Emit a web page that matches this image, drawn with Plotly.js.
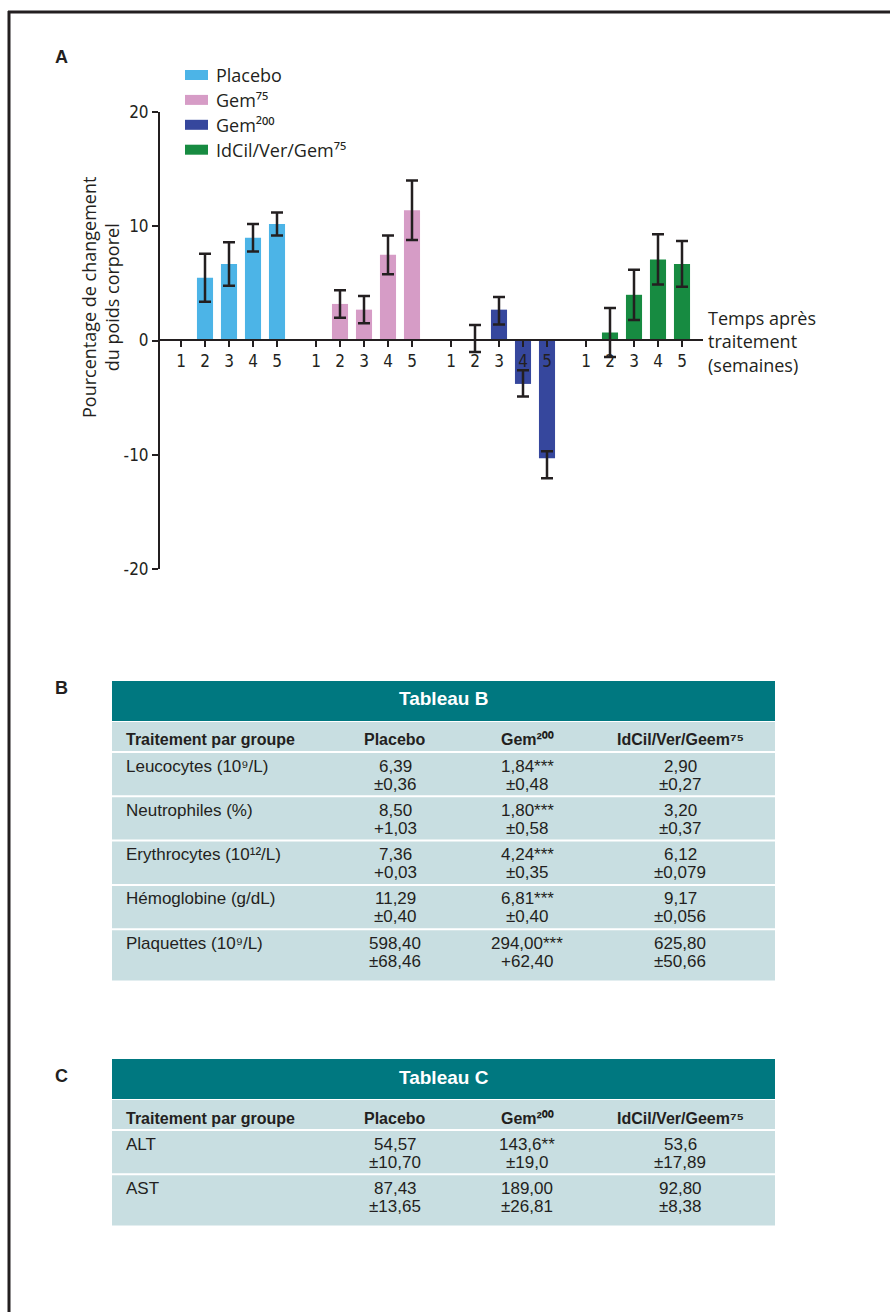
<!DOCTYPE html>
<html>
<head>
<meta charset="utf-8">
<script src="https://cdn.plot.ly/plotly-3.0.1.min.js"></script>
<style>html,body{margin:0;padding:0;background:#fff;}#chart{width:890px;height:1312px;}</style>
</head>
<body>
<div id="chart"></div>
<script>
// ---------------- DATA ----------------
const weeks = ["1", "2", "3", "4", "5"];
const seriesNames = ["Placebo", "Gem⁷⁵", "Gem²⁰⁰", "IdCil/Ver/Gem⁷⁵"];
const placeboValues = [0, 5.5, 6.7, 9.0, 10.2];
const placeboErr = [NaN, 2.1, 1.9, 1.2, 1.0];
const gem75Values = [0, 3.2, 2.7, 7.5, 11.4];
const gem75Err = [NaN, 1.2, 1.2, 1.7, 2.6];
const gem200Values = [0, 0, 2.7, -3.8, -10.3];
const gem200ErrPlus = [NaN, 1.35, 1.1, 1.2, 0.6];
const gem200ErrMinus = [NaN, 1.0, 1.3, 1.1, 1.75];
const comboValues = [0, 0.7, 4.0, 7.1, 6.7];
const comboErr = [NaN, 2.15, 2.2, 2.2, 2.0];
const yTickValues = [-20, -10, 0, 10, 20];
const yTickLabels = ["-20", "-10", "0", "10", "20"];
const yTitleText = "Pourcentage de changement<br>du poids corporel";
const xTitleText = "Temps après<br>traitement<br>(semaines)";

const tableColumns = ["Traitement par groupe", "Placebo", "Gem²⁰⁰", "IdCil/Ver/Geem⁷⁵"];

const tableBTitle = "Tableau B";
const tableBRows = ["Leucocytes (10⁹/L)", "Neutrophiles (%)", "Erythrocytes (10¹²/L)", "Hémoglobine (g/dL)", "Plaquettes (10⁹/L)"];
const tableBPlacebo = ["6,39", "8,50", "7,36", "11,29", "598,40"];
const tableBPlaceboSE = ["±0,36", "+1,03", "+0,03", "±0,40", "±68,46"];
const tableBGem200 = ["1,84***", "1,80***", "4,24***", "6,81***", "294,00***"];
const tableBGem200SE = ["±0,48", "±0,58", "±0,35", "±0,40", "+62,40"];
const tableBCombo = ["2,90", "3,20", "6,12", "9,17", "625,80"];
const tableBComboSE = ["±0,27", "±0,37", "±0,079", "±0,056", "±50,66"];

const tableCTitle = "Tableau C";
const tableCRows = ["ALT", "AST"];
const tableCPlacebo = ["54,57", "87,43"];
const tableCPlaceboSE = ["±10,70", "±13,65"];
const tableCGem200 = ["143,6**", "189,00"];
const tableCGem200SE = ["±19,0", "±26,81"];
const tableCCombo = ["53,6", "92,80"];
const tableCComboSE = ["±17,89", "±8,38"];

// ---------------- LAYOUT HELPERS ----------------
const W = 890, H = 1312;
const px = v => v / W;
const py = v => 1 - v / H;
const INK = "#231f20";
const colors = ["#4cb4e7", "#d69cc6", "#36479d", "#178b41"];
const groupStep = 5.625;
const chartFont = "Open Sans, Noto Sans, sans-serif";
const narrowFont = "Liberation Sans Narrow, DejaVu Sans Condensed, Arial Narrow, sans-serif";
const tableFont = "Liberation Sans, Arial, sans-serif";

const seriesValues = [placeboValues, gem75Values, gem200Values, comboValues];
const seriesErrPlus = [placeboErr, gem75Err, gem200ErrPlus, comboErr];
const seriesErrMinus = [placeboErr, gem75Err, gem200ErrMinus, comboErr];

const traces = [];
const tickVals = [], tickText = [];
seriesValues.forEach((vals, g) => {
  const xs = weeks.map((w, i) => g * groupStep + i);
  xs.forEach((x, i) => { tickVals.push(x); tickText.push(weeks[i]); });
  traces.push({
    type: "bar",
    name: seriesNames[g],
    x: xs,
    y: vals,
    width: 0.67,
    marker: {color: colors[g], line: {width: 0}},
    error_y: {
      type: "data", symmetric: false,
      array: seriesErrPlus[g], arrayminus: seriesErrMinus[g],
      color: INK, thickness: 2.5, width: 6
    },
    hoverinfo: "skip",
    showlegend: false
  });
});

const shapes = [];
const annotations = [];

// frame
shapes.push({type: "line", xref: "paper", yref: "paper", x0: px(9), x1: px(9), y0: py(11), y1: 0, line: {color: INK, width: 3}});
shapes.push({type: "line", xref: "paper", yref: "paper", x0: px(8), x1: 1, y0: py(12), y1: py(12), line: {color: INK, width: 3}});

// panel letters
[["A", 57], ["B", 688], ["C", 1076]].forEach(([t, y]) => {
  annotations.push({text: "<b>" + t + "</b>", xref: "paper", yref: "paper", x: px(62), y: py(y),
    xanchor: "center", yanchor: "middle", showarrow: false, font: {family: tableFont, size: 18, color: INK}});
});

// custom legend
seriesNames.forEach((n, i) => {
  const cy = 75 + i * 24.9;
  shapes.push({type: "rect", xref: "paper", yref: "paper", x0: px(185), x1: px(208), y0: py(cy - 5), y1: py(cy + 5),
    fillcolor: colors[i], line: {width: 0}});
  annotations.push({text: n, xref: "paper", yref: "paper", x: px(214), y: py(cy), xanchor: "left", yanchor: "middle",
    showarrow: false, font: {family: chartFont, size: 18, color: INK}});
});

// axis titles
annotations.push({text: yTitleText, xref: "paper", yref: "paper", x: px(100), y: py(298), textangle: -90,
  xanchor: "center", yanchor: "middle", showarrow: false, align: "center",
  font: {family: chartFont, size: 18, color: INK}});
annotations.push({text: xTitleText, xref: "paper", yref: "paper", x: px(706), y: py(341), xanchor: "left", yanchor: "middle",
  showarrow: false, align: "left", font: {family: chartFont, size: 18, color: INK}});

// ---------------- TABLES ----------------
const TEAL = "#007880", ROWBG = "#c8dee1";
const colCenters = [124, 395, 527, 680];
function addTable(top, title, rowLabels, colVals, colSE) {
  const left = 112, right = 775;
  const headTop = top + 41, headH = 30, rowH = 44.3, extra = 7;
  const bodyTop = headTop + headH;
  const bottom = bodyTop + rowLabels.length * rowH + extra;
  shapes.push({type: "rect", xref: "paper", yref: "paper", layer: "below", x0: px(left), x1: px(right), y0: py(top), y1: py(top + 40),
    fillcolor: TEAL, line: {width: 0}});
  shapes.push({type: "rect", xref: "paper", yref: "paper", layer: "below", x0: px(left), x1: px(right), y0: py(headTop), y1: py(bottom),
    fillcolor: ROWBG, line: {width: 0}});
  annotations.push({text: "<b>" + title + "</b>", xref: "paper", yref: "paper", x: px((left + right) / 2), y: py(top + 18),
    xanchor: "center", yanchor: "middle", showarrow: false, font: {family: tableFont, size: 19, color: "#ffffff"}});
  // column headers
  tableColumns.forEach((c, j) => {
    annotations.push({text: "<b>" + c + "</b>", xref: "paper", yref: "paper", x: px(colCenters[j]), y: py(headTop + 18),
      xanchor: j === 0 ? "left" : "center", yanchor: "middle", showarrow: false,
      font: {family: tableFont, size: 16, color: INK}});
  });
  // separators
  for (let i = 0; i < rowLabels.length; i++) {
    const ly = bodyTop + i * rowH;
    shapes.push({type: "line", xref: "paper", yref: "paper", x0: px(left), x1: px(right), y0: py(ly), y1: py(ly),
      line: {color: "#ffffff", width: 2}});
  }
  rowLabels.forEach((lab, i) => {
    const rt = bodyTop + i * rowH;
    annotations.push({text: lab, xref: "paper", yref: "paper", x: px(colCenters[0]), y: py(rt + 14),
      xanchor: "left", yanchor: "middle", showarrow: false, font: {family: tableFont, size: 17, color: INK}});
    colVals.forEach((vals, j) => {
      annotations.push({text: vals[i], xref: "paper", yref: "paper", x: px(colCenters[j + 1]), y: py(rt + 14),
        xanchor: "center", yanchor: "middle", showarrow: false, font: {family: tableFont, size: 17, color: INK}});
      annotations.push({text: colSE[j][i], xref: "paper", yref: "paper", x: px(colCenters[j + 1]), y: py(rt + 32),
        xanchor: "center", yanchor: "middle", showarrow: false, font: {family: tableFont, size: 17, color: INK}});
    });
  });
}
addTable(681, tableBTitle, tableBRows, [tableBPlacebo, tableBGem200, tableBCombo], [tableBPlaceboSE, tableBGem200SE, tableBComboSE]);
addTable(1059, tableCTitle, tableCRows, [tableCPlacebo, tableCGem200, tableCCombo], [tableCPlaceboSE, tableCGem200SE, tableCComboSE]);

// ---------------- LAYOUT ----------------
const layout = {
  width: W, height: H,
  margin: {l: 0, r: 0, t: 0, b: 0, pad: 0},
  paper_bgcolor: "#ffffff", plot_bgcolor: "rgba(0,0,0,0)",
  barmode: "overlay",
  showlegend: false,
  xaxis: {
    domain: [px(160), px(703)],
    range: [-0.875, 21.75],
    anchor: "free", position: py(340),
    showline: true, linecolor: INK, linewidth: 2,
    ticks: "outside", ticklen: 6, tickwidth: 2, tickcolor: INK,
    tickmode: "array", tickvals: tickVals, ticktext: tickText,
    tickfont: {family: narrowFont, size: 17, color: INK},
    showgrid: false, zeroline: false, fixedrange: true
  },
  yaxis: {
    domain: [py(569), py(112)],
    range: [-20, 20],
    anchor: "x",
    showline: true, linecolor: INK, linewidth: 2,
    ticks: "outside", ticklen: 6, tickwidth: 2, tickcolor: INK,
    tickmode: "array", tickvals: yTickValues, ticktext: yTickLabels,
    tickfont: {family: narrowFont, size: 17, color: INK},
    showgrid: false, zeroline: false, fixedrange: true
  },
  shapes: shapes,
  annotations: annotations
};

Plotly.newPlot("chart", traces, layout, {staticPlot: true, displayModeBar: false});
</script>
</body>
</html>
